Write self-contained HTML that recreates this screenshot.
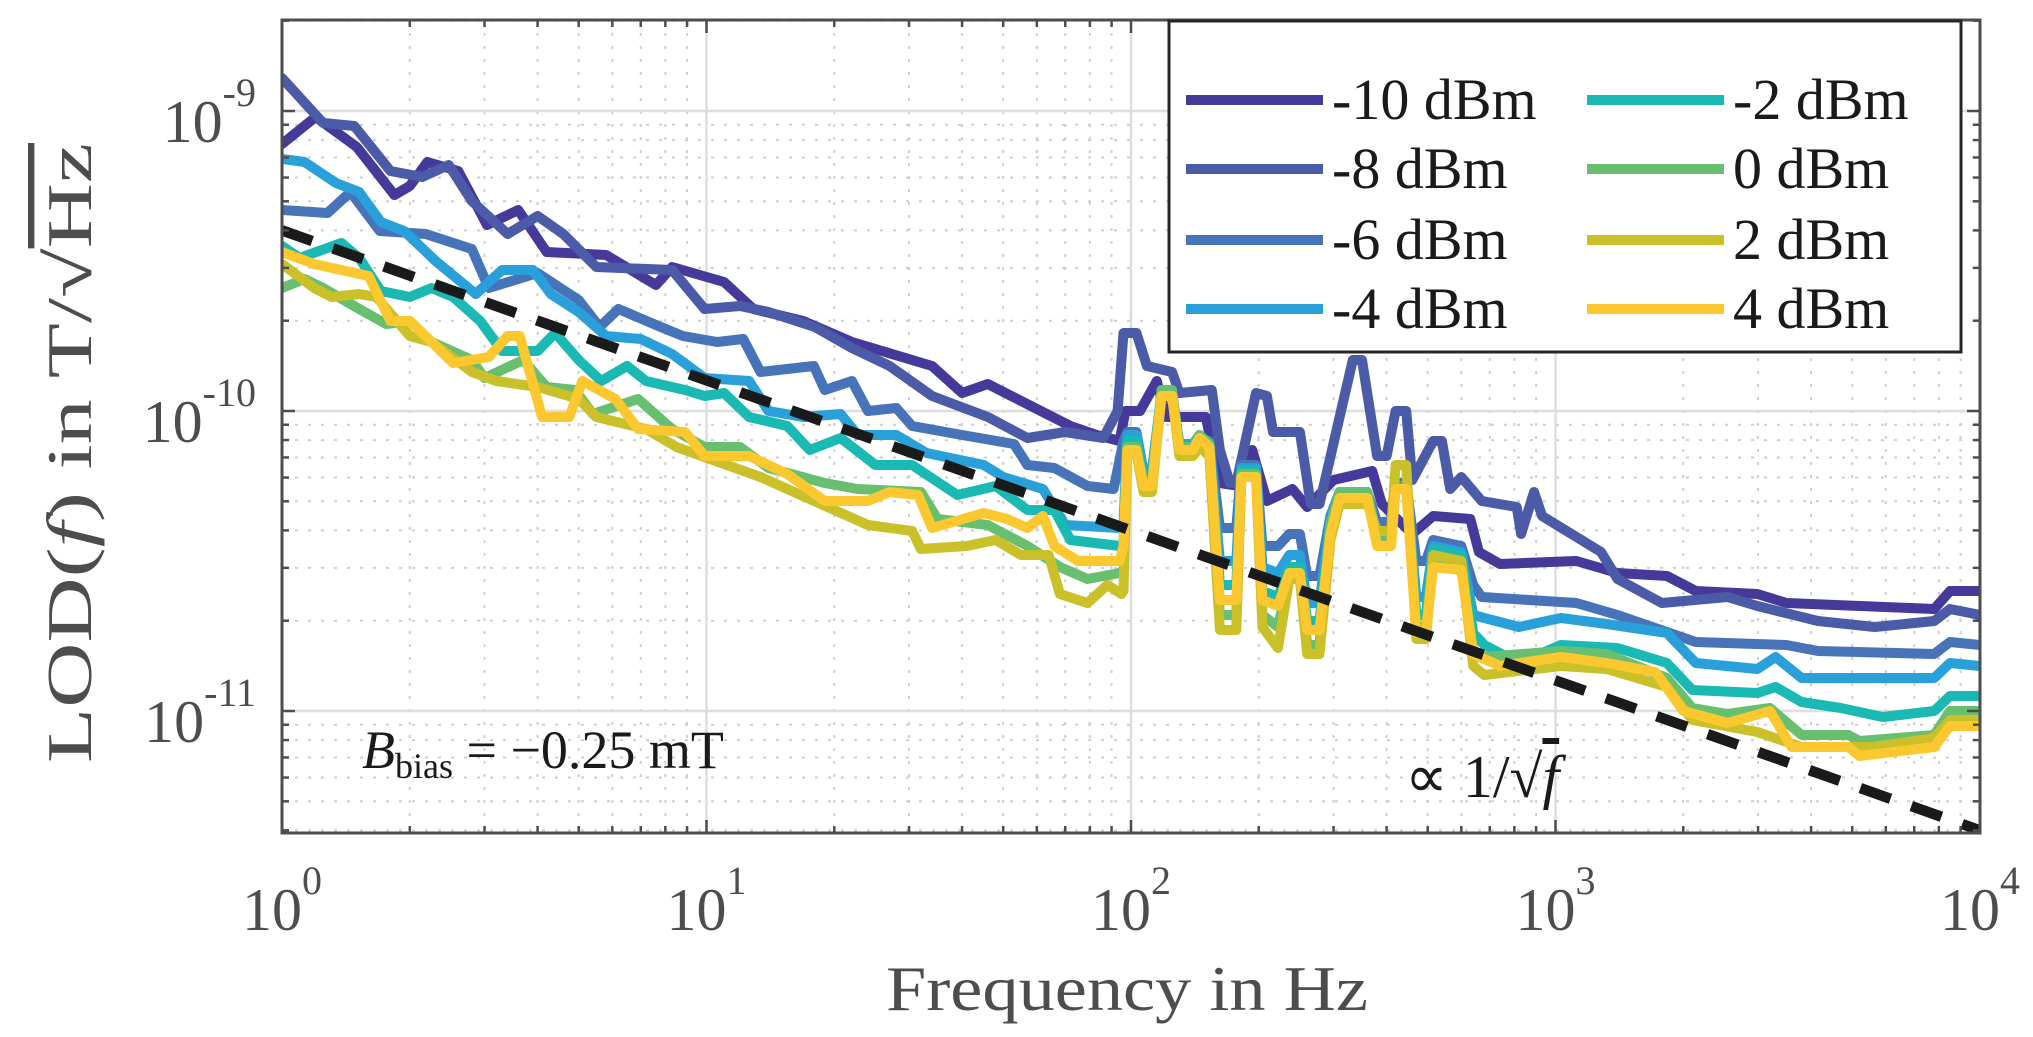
<!DOCTYPE html>
<html><head><meta charset="utf-8">
<style>
html,body{margin:0;padding:0;background:#fff;}
svg{display:block;font-family:"Liberation Serif",serif;}
</style></head>
<body>
<svg id="chart" width="2033" height="1037" viewBox="0 0 2033 1037" xmlns="http://www.w3.org/2000/svg">
<defs><clipPath id="plotclip"><rect x="282" y="20" width="1698" height="813"/></clipPath></defs>
<rect x="0" y="0" width="2033" height="1037" fill="#fff"/>
<g id="grid"></g>
<g id="series" clip-path="url(#plotclip)"></g>
<g id="axes"></g>
<text transform="translate(91,453) rotate(-90)" text-anchor="middle" font-size="64" fill="#4d4d4d" textLength="620" lengthAdjust="spacingAndGlyphs">LOD(<tspan font-style="italic">f</tspan>) in T/√<tspan text-decoration="overline">Hz</tspan></text>
<text x="1127" y="1010" text-anchor="middle" font-size="64" fill="#4d4d4d" textLength="482" lengthAdjust="spacingAndGlyphs">Frequency in Hz</text>
<text x="362" y="768" font-size="54" fill="#1a1a1a"><tspan font-style="italic">B</tspan><tspan font-size="36" dy="10">bias</tspan><tspan dy="-10"> = −0.25 mT</tspan></text>
<text x="1405" y="797" font-size="60" fill="#1a1a1a">∝ 1/√<tspan font-style="italic" text-decoration="overline">f</tspan></text>
<g id="legend"></g>
</svg>
<script>
// ---- data (log10 of LOD in T/sqrt(Hz)) ----
const seriesNames = ["-10 dBm","-8 dBm","-6 dBm","-4 dBm","-2 dBm","0 dBm","2 dBm","4 dBm"];
const seriesColors = ["#45399a","#4b5ba8","#4774b9","#2aa0da","#1ab9b3","#68bf6f","#c9c02a","#fbc830"];
const xTicks = [1,10,100,1000,10000];
const xTickExp = ["0","1","2","3","4"];
const yTicks = [-9,-10,-11];
const yTickExp = ["-9","-10","-11"];
const slopeRef = 4e-10; // dashed 1/sqrt(f) reference at f=1

const f_m10 = [1,1.2,1.5,1.84,2.0,2.2,2.6,3.04,3.6,4.2,5.8,7.6,8.3,11,12.9,16.9,22,34,40,46,72,83,94,97,105,115,121,150,162,180,193,209,240,260,300,370,390,460,515,630,660,740,1120,1400,1830,2140,2990,3500,7800,8500,10000];
const v_m10 = [-9.11,-9.02,-9.12,-9.28,-9.25,-9.17,-9.2,-9.38,-9.33,-9.47,-9.48,-9.58,-9.52,-9.57,-9.66,-9.70,-9.77,-9.85,-9.94,-9.91,-10.05,-10.08,-10.10,-10.0,-10.0,-9.9,-10.02,-10.02,-10.24,-10.25,-10.13,-10.30,-10.26,-10.32,-10.23,-10.2,-10.31,-10.41,-10.35,-10.36,-10.47,-10.51,-10.50,-10.54,-10.55,-10.60,-10.61,-10.64,-10.66,-10.60,-10.60];

const f_m8 = [1,1.25,1.48,1.8,2.14,2.47,2.8,3.4,4.0,4.6,5.5,8.3,9.9,12,14,18,22,27,34,46,57,70,86,93,96,103,109,125,130,155,162,171,177,197,209,216,250,265,278,333,350,380,400,420,445,460,515,540,565,600,670,810,830,890,930,1280,1400,1780,2540,2990,4150,5650,7800,8500,10000];
const v_m8 = [-8.89,-9.04,-9.05,-9.2,-9.22,-9.18,-9.3,-9.41,-9.35,-9.41,-9.52,-9.53,-9.66,-9.65,-9.67,-9.72,-9.79,-9.85,-9.95,-10.02,-10.09,-10.07,-10.09,-10.0,-9.74,-9.74,-9.85,-9.87,-9.94,-9.93,-10.13,-10.24,-10.24,-9.94,-9.95,-10.07,-10.07,-10.31,-10.31,-9.83,-9.83,-10.15,-10.15,-10.0,-10.0,-10.23,-10.1,-10.1,-10.26,-10.22,-10.30,-10.32,-10.41,-10.27,-10.35,-10.47,-10.56,-10.64,-10.62,-10.65,-10.70,-10.72,-10.70,-10.66,-10.68];

// shared spiky mid-band frequencies (Hz)
const f_mid = [96,98,103,107,112,118,125,130,140,145,153,162,177,182,197,204,222,236,250,260,278,295,310,360,380,410,420,445,470,495,515,600,640];

const f_m6_lo = [1,1.28,1.45,1.7,2.18,2.8,3.07,4.0,5.0,5.6,6.2,7.8,8.8,10.6,12.2,13.4,17.9,19,22,24,28,30.5,40,53,57,66,79,91];
const v_m6_lo = [-9.33,-9.34,-9.27,-9.4,-9.41,-9.46,-9.59,-9.54,-9.63,-9.72,-9.66,-9.72,-9.75,-9.77,-9.76,-9.87,-9.85,-9.93,-9.9,-10.0,-9.99,-10.05,-10.08,-10.11,-10.18,-10.19,-10.25,-10.26];
const v_m6_mid = [-10.1,-10.07,-10.07,-10.2,-10.2,-9.95,-9.95,-10.11,-10.11,-10.09,-10.1,-10.39,-10.39,-10.18,-10.18,-10.45,-10.45,-10.41,-10.41,-10.55,-10.55,-10.35,-10.27,-10.27,-10.37,-10.37,-10.24,-10.24,-10.5,-10.5,-10.43,-10.45,-10.58];
const f_m6_hi = [670,1120,1400,2140,3500,4150,7800,8500,10000];
const v_m6_hi = [-10.62,-10.64,-10.68,-10.77,-10.78,-10.80,-10.81,-10.77,-10.78];

const f_m4_lo = [1,1.13,1.34,1.52,1.71,1.94,2.3,2.86,3.3,3.9,4.3,5.0,5.8,7.0,8.3,9.9,12.6,14,16.9,20.7,22.7,28,33,45,50,62,70,94];
const v_m4_lo = [-9.16,-9.17,-9.24,-9.27,-9.37,-9.40,-9.5,-9.61,-9.53,-9.53,-9.61,-9.67,-9.75,-9.76,-9.81,-9.89,-9.9,-10.0,-10.02,-10.01,-10.08,-10.08,-10.14,-10.18,-10.22,-10.26,-10.38,-10.39];
const v_m4_mid = [-10.38,-10.08,-10.08,-10.2,-10.2,-9.94,-9.94,-10.11,-10.11,-10.08,-10.11,-10.5,-10.5,-10.19,-10.19,-10.52,-10.54,-10.48,-10.48,-10.64,-10.64,-10.36,-10.27,-10.27,-10.42,-10.42,-10.25,-10.25,-10.62,-10.62,-10.45,-10.47,-10.68];
const f_m4_hi = [680,820,1030,1320,1830,2140,2990,3300,3800,7800,8500,10000];
const v_m4_hi = [-10.69,-10.72,-10.69,-10.71,-10.74,-10.84,-10.86,-10.82,-10.89,-10.89,-10.84,-10.85];

const f_m2_lo = [1,1.1,1.38,1.52,1.71,2.0,2.25,2.53,2.93,3.3,4.0,4.4,5.0,5.65,6.5,7.2,8.9,9.9,11,12.6,15.5,17.5,20.7,25,30.5,39,48,57,66,72,94];
const v_m2_lo = [-9.45,-9.49,-9.44,-9.49,-9.6,-9.62,-9.59,-9.62,-9.7,-9.8,-9.8,-9.74,-9.83,-9.9,-9.85,-9.9,-9.93,-9.95,-9.94,-10.02,-10.05,-10.13,-10.09,-10.18,-10.18,-10.28,-10.25,-10.33,-10.33,-10.43,-10.45];
const v_m2_mid = [-10.44,-10.10,-10.10,-10.22,-10.22,-9.94,-9.94,-10.12,-10.12,-10.08,-10.11,-10.58,-10.58,-10.20,-10.20,-10.60,-10.62,-10.52,-10.52,-10.70,-10.70,-10.38,-10.27,-10.27,-10.44,-10.44,-10.25,-10.25,-10.68,-10.68,-10.46,-10.48,-10.74];
const f_m2_hi = [680,820,1030,1400,1830,2100,2990,3300,3800,4700,5900,7800,8500,10000];
const v_m2_hi = [-10.78,-10.84,-10.78,-10.79,-10.84,-10.93,-10.94,-10.92,-10.97,-10.99,-11.02,-11.0,-10.95,-10.95];

const f_0_lo = [1,1.13,1.25,1.52,1.76,2.0,2.25,2.8,3.0,3.7,4.2,4.9,5.4,6.9,8.3,9.9,12,14,19,22.7,32,35,46,57,68,79,94];
const v_0_lo = [-9.59,-9.56,-9.59,-9.66,-9.71,-9.7,-9.77,-9.83,-9.89,-9.83,-9.92,-9.93,-10.01,-9.96,-10.06,-10.12,-10.12,-10.19,-10.24,-10.26,-10.27,-10.36,-10.38,-10.45,-10.52,-10.56,-10.54];
const v_0_mid = [-10.53,-10.12,-10.12,-10.24,-10.24,-9.93,-9.93,-10.12,-10.12,-10.08,-10.11,-10.68,-10.68,-10.21,-10.21,-10.68,-10.72,-10.55,-10.55,-10.78,-10.78,-10.38,-10.27,-10.27,-10.42,-10.42,-10.26,-10.26,-10.72,-10.72,-10.50,-10.52,-10.80];
const f_0_hi = [680,1030,1320,1830,2100,2540,3200,3800,4900,5200,7800,8500,10000];
const v_0_hi = [-10.82,-10.80,-10.81,-10.89,-10.99,-11.01,-10.99,-11.08,-11.08,-11.10,-11.08,-11.0,-11.0];

const f_2_lo = [1,1.19,1.31,1.52,1.67,2.0,2.25,2.8,3.2,4.0,5.0,5.5,7.2,8.5,13.4,15.5,24,30.5,32,41,48,55,64,68,79,88,95];
const v_2_lo = [-9.51,-9.59,-9.62,-9.61,-9.62,-9.75,-9.77,-9.87,-9.9,-9.92,-9.96,-10.02,-10.06,-10.12,-10.22,-10.26,-10.38,-10.40,-10.46,-10.45,-10.43,-10.48,-10.48,-10.61,-10.64,-10.58,-10.61];
const v_2_mid = [-10.6,-10.14,-10.14,-10.27,-10.27,-9.95,-9.95,-10.15,-10.15,-10.12,-10.15,-10.73,-10.73,-10.22,-10.22,-10.72,-10.79,-10.56,-10.56,-10.81,-10.81,-10.43,-10.31,-10.31,-10.40,-10.40,-10.18,-10.18,-10.76,-10.76,-10.48,-10.50,-10.85];
const f_2_hi = [680,1030,1320,1830,2100,2990,3800,5600,7800,8500,10000];
const v_2_hi = [-10.88,-10.85,-10.86,-10.92,-11.03,-11.07,-11.12,-11.12,-11.09,-11.03,-11.03];

const f_4_lo = [1,1.19,1.6,1.8,2.0,2.53,3.07,3.4,3.63,4.1,4.75,5.1,6.1,6.9,8.9,9.9,12.6,15.5,19,24,27,31.5,34,45,51,57,62,66,75,94];
const v_4_lo = [-9.47,-9.51,-9.55,-9.70,-9.70,-9.84,-9.82,-9.75,-9.75,-10.02,-10.02,-9.9,-9.96,-10.06,-10.07,-10.15,-10.15,-10.21,-10.30,-10.30,-10.27,-10.28,-10.39,-10.34,-10.36,-10.39,-10.35,-10.45,-10.5,-10.5];
const v_4_mid = [-10.45,-10.13,-10.13,-10.25,-10.25,-9.95,-9.95,-10.13,-10.13,-10.09,-10.12,-10.63,-10.63,-10.22,-10.22,-10.63,-10.65,-10.54,-10.54,-10.73,-10.73,-10.41,-10.29,-10.29,-10.45,-10.45,-10.26,-10.26,-10.74,-10.74,-10.52,-10.53,-10.81];
const f_4_hi = [740,1030,1320,1720,2000,2540,3200,3600,4900,5200,7800,8500,10000];
const v_4_hi = [-10.85,-10.82,-10.84,-10.87,-11.0,-11.04,-11.0,-11.12,-11.12,-11.15,-11.12,-11.05,-11.05];

// ---- axes ----
const PL=282, PR=1980, PT=20, PB=833;
const Y0=111, DEC_Y=300;
function xs(f){ return PL + Math.log10(f)*(PR-PL)/4; }
function ys(l){ return Y0 + (-9 - l)*DEC_Y; }
const NS="http://www.w3.org/2000/svg";
function mk(tag, attrs, parent){ const e=document.createElementNS(NS,tag); for(const k in attrs) e.setAttribute(k,attrs[k]); parent.appendChild(e); return e; }

const grid=document.getElementById('grid'), axes=document.getElementById('axes'), ser=document.getElementById('series'), leg=document.getElementById('legend');

for(let d=0; d<4; d++){
  for(let m=2;m<=9;m++){
    const x=xs(m*Math.pow(10,d));
    const l=mk('line',{x1:x,x2:x,y1:PT,y2:PB,stroke:'#cfcfcf','stroke-width':2,'stroke-dasharray':'3,10'},grid);
    
    
    for(const [ya,yb] of [[PB,PB-7],[PT,PT+7]]){
      const t=mk('line',{x1:x,x2:x,y1:ya,y2:yb,stroke:'#4d4d4d','stroke-width':2.5},axes);
      
      
    }
  }
}
xTicks.forEach((f,i)=>{
  const x=xs(f);
  if(i>0 && i<xTicks.length-1){
    const g=mk('line',{x1:x,x2:x,y1:PT,y2:PB,stroke:'#dedede','stroke-width':2.5},grid);
    
    
  }
  for(const [ya,yb] of [[PB,PB-13],[PT,PT+13]]){
    const t=mk('line',{x1:x,x2:x,y1:ya,y2:yb,stroke:'#4d4d4d','stroke-width':2.5},axes);
    
    
  }
  const tx=mk('text',{x:x,y:930,'text-anchor':'middle','font-size':60,fill:'#4d4d4d'},axes);
  
  
  tx.innerHTML='10<tspan font-size="40" dy="-36">'+xTickExp[i]+'</tspan>';
});
for(let e=-12; e<=-9; e++){
  for(let m=2;m<=9;m++){
    const l=e+Math.log10(m);
    const y=ys(l);
    if(y<PT||y>PB) continue;
    const g=mk('line',{x1:PL,x2:PR,y1:y,y2:y,stroke:'#cfcfcf','stroke-width':2,'stroke-dasharray':'3,10'},grid);
    
    
    for(const [xa,xb] of [[PL,PL+7],[PR,PR-7]]){
      const t=mk('line',{x1:xa,x2:xb,y1:y,y2:y,stroke:'#4d4d4d','stroke-width':2.5},axes);
      
      
    }
  }
}
yTicks.forEach((l,i)=>{
  const y=ys(l);
  const g=mk('line',{x1:PL,x2:PR,y1:y,y2:y,stroke:'#dedede','stroke-width':2.5},grid);
  
  
  for(const [xa,xb] of [[PL,PL+13],[PR,PR-13]]){
    const t=mk('line',{x1:xa,x2:xb,y1:y,y2:y,stroke:'#4d4d4d','stroke-width':2.5},axes);
    
    
  }
  const tx=mk('text',{x:256,y:y+31,'text-anchor':'end','font-size':60,fill:'#4d4d4d'},axes);
  
  
  tx.innerHTML='10<tspan font-size="40" dy="-36">'+yTickExp[i]+'</tspan>';
});
const box=mk('rect',{x:PL,y:PT,width:PR-PL,height:PB-PT,fill:'none',stroke:'#4d4d4d','stroke-width':3},axes);



const seriesF=[f_m10,f_m8,f_m6_lo.concat(f_mid,f_m6_hi),f_m4_lo.concat(f_mid,f_m4_hi),f_m2_lo.concat(f_mid,f_m2_hi),f_0_lo.concat(f_mid,f_0_hi),f_2_lo.concat(f_mid,f_2_hi),f_4_lo.concat(f_mid,f_4_hi)];
const seriesV=[v_m10,v_m8,v_m6_lo.concat(v_m6_mid,v_m6_hi),v_m4_lo.concat(v_m4_mid,v_m4_hi),v_m2_lo.concat(v_m2_mid,v_m2_hi),v_0_lo.concat(v_0_mid,v_0_hi),v_2_lo.concat(v_2_mid,v_2_hi),v_4_lo.concat(v_4_mid,v_4_hi)];
seriesF.forEach((F,s)=>{
  const V=seriesV[s];
  const n=Math.min(F.length,V.length);
  const pts=[];
  for(let i=0;i<n;i++) pts.push(xs(F[i]).toFixed(1)+','+ys(V[i]).toFixed(1));
  const p=mk('polyline',{points:pts.join(' '),fill:'none',stroke:seriesColors[s],'stroke-width':10,'stroke-linejoin':'round','stroke-linecap':'round'},ser);
  
  
});
const fr0=1, fr1=10000;
const ref=mk('line',{x1:xs(fr0),y1:ys(Math.log10(slopeRef/Math.sqrt(fr0))),x2:xs(fr1),y2:ys(Math.log10(slopeRef/Math.sqrt(fr1))),stroke:'#1a1a1a','stroke-width':10.5,'stroke-dasharray':'32,22'},ser);



const lb=mk('rect',{x:1169,y:21,width:792,height:331,fill:'#fff',stroke:'#262626','stroke-width':3},leg);


const rowsY=[100,169,240,309];
seriesNames.forEach((name,i)=>{
  const col=Math.floor(i/4), row=i%4;
  const lx=col?1587:1186, tx=col?1733:1332;
  const g=mk('g',{},leg);
  
  
  const l=mk('line',{x1:lx,x2:lx+137,y1:rowsY[row],y2:rowsY[row],stroke:seriesColors[i],'stroke-width':10},g);
  
  
  const t=mk('text',{x:tx,y:rowsY[row]+19,'font-size':58,fill:'#1a1a1a'},g);
  
  
  t.textContent=name;
});
</script>
</body></html>
